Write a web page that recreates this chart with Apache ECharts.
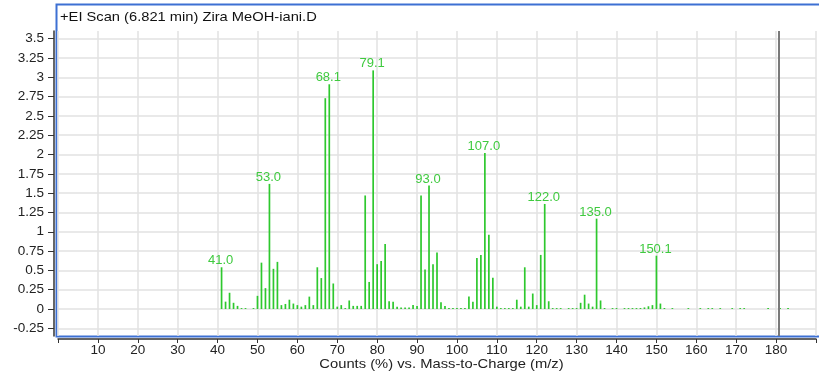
<!DOCTYPE html>
<html><head><meta charset="utf-8">
<script src="https://cdn.jsdelivr.net/npm/echarts@6/dist/echarts.min.js"></script>
<style>html,body{margin:0;padding:0;background:#fff}#c{width:819px;height:378px}</style>
</head><body><div id="c"></div>
<script>
// m/z positions of the peaks
const mzValues = [41,42,43,44,45,46,47,49,50,51,52,53,54,55,56,57,58,59,60,61,62,63,64,65,66,67,68,69,70,71,72,73,74,75,76,77,78,79,80,81,82,83,84,85,86,87,88,89,90,
  91,92,93,94,95,96,97,98,99,100,101,102,103,104,105,106,107,108,109,110,111,112,113,114,115,116,117,118,119,120,121,122,123,124,125,126,128,129,130,
  131,132,133,134,135,136,137,139,140,142,143,144,145,146,147,148,149,150,151,152,154,158,161,163,164,166,169,171,172,178,181,183];
// relative counts
const intensities = [0.54,0.095,0.21,0.08,0.04,0.012,0.012,0.012,0.17,0.60,0.27,1.62,0.52,0.61,0.05,0.065,0.12,0.07,0.05,0.03,0.05,0.16,0.05,0.54,0.40,2.73,2.91,0.33,0.03,0.05,0.012,0.11,0.04,0.04,0.04,1.47,0.35,3.09,0.58,0.62,0.84,0.10,0.095,0.03,0.02,0.02,0.02,0.05,0.04,
  1.47,0.51,1.60,0.58,0.73,0.086,0.04,0.013,0.012,0.012,0.012,0.013,0.16,0.095,0.66,0.70,2.02,0.96,0.405,0.03,0.012,0.012,0.012,0.012,0.12,0.03,0.54,0.03,0.20,0.05,0.70,1.36,0.10,0.012,0.012,0.012,0.012,0.012,0.012,
  0.08,0.185,0.07,0.03,1.17,0.11,0.013,0.012,0.012,0.012,0.012,0.012,0.012,0.013,0.02,0.035,0.05,0.69,0.07,0.013,0.012,0.012,0.012,0.012,0.012,0.012,0.012,0.012,0.012,0.012,0.012,0.012];
// annotated peaks
const labelMz = [41,53,68,79,93,107,122,135,150];
const labelText = ['41.0','53.0','68.1','79.1','93.0','107.0','122.0','135.0','150.1'];
// y tick values
const yTicks = [-0.25,0,0.25,0.5,0.75,1,1.25,1.5,1.75,2,2.25,2.5,2.75,3,3.25,3.5];
const markerMz = 180.6;
const titleText = '+EI Scan (6.821 min) Zira MeOH-iani.D';
const xName = 'Counts (%) vs. Mass-to-Charge (m/z)';

const FONT = 'Liberation Sans, Arial, sans-serif';
const GREEN = '#2ec82e';
const chart = echarts.init(document.getElementById('c'), null, {renderer:'canvas'});
const data = mzValues.map((m,i)=>{
  const k = labelMz.indexOf(m);
  const item = {value:[m, intensities[i]]};
  if (k >= 0) item.label = {show:true, formatter: labelText[k]};
  return item;
});
chart.setOption({
  animation:false,
  backgroundColor:'#fff',
  grid:{left:58, top:31, width:762, height:305, containLabel:false},
  graphic:[
    {type:'rect', z:-1, shape:{x:56.5, y:4.5, width:800, height:332},
      style:{fill:'none', stroke:'#3d70d3', lineWidth:2}},
    {type:'text', x:60, y:17, scaleX:1.13,
      style:{text:titleText, fontFamily:FONT, fontSize:13, fill:'#111', align:'left', verticalAlign:'middle'}},
    {type:'text', x:441.5, y:364, scaleX:1.135,
      style:{text:xName, fontFamily:FONT, fontSize:13, fill:'#222', align:'center', verticalAlign:'middle'}}
  ],
  xAxis:{type:'value', min:0, max:190, interval:10, offset:3,
    axisLine:{show:true, onZero:false, lineStyle:{color:'#333', width:1.5}},
    axisTick:{show:true, length:4, lineStyle:{color:'#333'}},
    axisLabel:{margin:4, fontFamily:FONT, fontSize:13.5, color:'#222',
      formatter:v => (v===0||v===190)?'':String(v)},
    splitLine:{show:true, lineStyle:{color:'#e2e2e2', width:1.5}}},
  yAxis:{type:'value', min:-0.35, max:3.6, offset:4,
    axisLine:{show:true, onZero:false, lineStyle:{color:'#333', width:1.5}},
    axisTick:{show:true, length:6, customValues:yTicks, lineStyle:{color:'#333'}},
    axisLabel:{customValues:yTicks, margin:10, fontFamily:FONT, fontSize:13.5, color:'#222',
      formatter:v => String(v)},
    splitLine:{show:true, lineStyle:{color:'#e2e2e2', width:1.5}}},
  series:[{type:'bar', data:data, barWidth:1.7, itemStyle:{color:GREEN},
    label:{show:false, position:'top', distance:0, offset:[-1,0], color:'#3fca3f', fontFamily:FONT, fontSize:13},
    markLine:{silent:true, symbol:'none', label:{show:false},
      lineStyle:{color:'#7a7a7a', width:2, type:'solid'}, data:[{xAxis:markerMz}]}
  }]
});
</script></body></html>
